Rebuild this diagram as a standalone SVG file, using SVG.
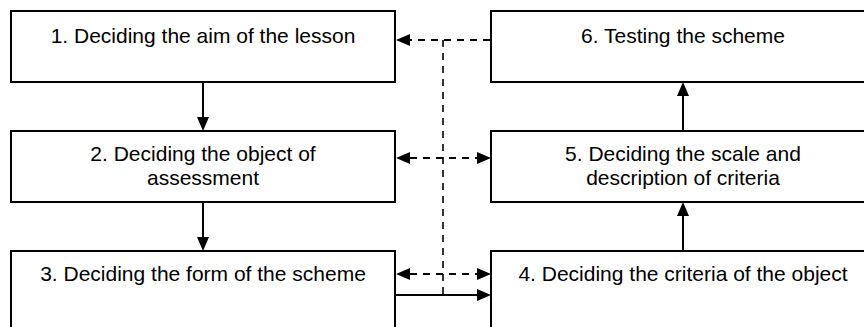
<svg xmlns="http://www.w3.org/2000/svg" width="864" height="327" viewBox="0 0 864 327">
  <defs>
    <marker id="ah" markerUnits="userSpaceOnUse" markerWidth="14" markerHeight="12" refX="0" refY="6" orient="auto-start-reverse" viewBox="0 0 14 12">
      <path d="M0,0 L14,6 L0,12 Z" fill="#000"/>
    </marker>
  </defs>
  <style>
    .box { fill: #fff; stroke: #000; stroke-width: 2; }
    .lbl { font-family: "Liberation Sans", Arial, sans-serif; font-size: 21px; fill: #000; text-anchor: middle; }
    .solid { stroke: #000; stroke-width: 2; fill: none; }
    .dash { stroke: #000; stroke-width: 2; fill: none; stroke-dasharray: 7 6; }
    .vdash { stroke: #000; stroke-width: 1.6; fill: none; stroke-dasharray: 7 6; }
  </style>
  <rect width="864" height="327" fill="#fff"/>

  <g id="n1">
    <rect class="box" x="11" y="11" width="384" height="71"/>
    <text class="lbl" x="203" y="43">1. Deciding the aim of the lesson</text>
  </g>
  <g id="n2">
    <rect class="box" x="11" y="131" width="384" height="71"/>
    <text class="lbl" x="203" y="161">2. Deciding the object of</text>
    <text class="lbl" x="203" y="185">assessment</text>
  </g>
  <g id="n3">
    <rect class="box" x="11" y="251" width="384" height="90"/>
    <text class="lbl" x="203" y="281">3. Deciding the form of the scheme</text>
  </g>
  <g id="n4">
    <rect class="box" x="491" y="251" width="384" height="90"/>
    <text class="lbl" x="683" y="281">4. Deciding the criteria of the object</text>
  </g>
  <g id="n5">
    <rect class="box" x="491" y="131" width="384" height="71"/>
    <text class="lbl" x="683" y="161">5. Deciding the scale and</text>
    <text class="lbl" x="683" y="185">description of criteria</text>
  </g>
  <g id="n6">
    <rect class="box" x="491" y="11" width="384" height="71"/>
    <text class="lbl" x="683" y="43">6. Testing the scheme</text>
  </g>

  <g id="connectors">
    <!-- solid flow -->
    <path class="solid" d="M203,83 V117" marker-end="url(#ah)"/>
    <path class="solid" d="M203,203 V237" marker-end="url(#ah)"/>
    <path class="solid" d="M396,295 H477" marker-end="url(#ah)"/>
    <path class="solid" d="M683,250 V216" marker-end="url(#ah)"/>
    <path class="solid" d="M683,130 V96" marker-end="url(#ah)"/>
    <!-- dashed feedback -->
    <path class="dash" d="M490,40 H410" marker-end="url(#ah)"/>
    <path class="vdash" d="M443,40 V295"/>
    <path class="dash" d="M410,158 H477" marker-start="url(#ah)" marker-end="url(#ah)"/>
    <path class="dash" d="M410,274 H477" marker-start="url(#ah)" marker-end="url(#ah)"/>
  </g>
</svg>
